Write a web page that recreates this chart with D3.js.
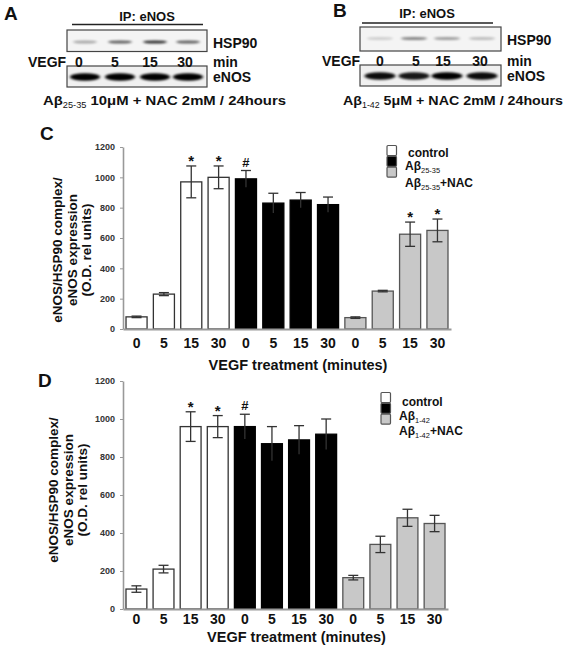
<!DOCTYPE html>
<html><head><meta charset="utf-8">
<script src="https://cdn.jsdelivr.net/npm/d3@7"></script>
<style>body{margin:0;background:#fff}svg{display:block;font-family:"Liberation Sans",Arial,sans-serif;font-weight:bold}</style>
</head><body>
<script>
// ---- data ----
const timeLabels = ["0","5","15","30"];
const groupsC = ["control","Aβ|25-35","Aβ|25-35|+NAC"];
const groupsD = ["control","Aβ|1-42","Aβ|1-42|+NAC"];
const cControl = [80,230,970,1000], cControlErr = [5,10,105,75];
const cAbeta   = [990,830,850,820], cAbetaErr   = [55,65,50,50];
const cNac     = [75,250,625,650],  cNacErr     = [5,5,80,75];
const cControlSig = ["","","*","*"], cAbetaSig = ["#","","",""], cNacSig = ["","","*","*"];
const dControl = [105,210,960,960], dControlErr = [17,20,78,58];
const dAbeta   = [960,870,890,920], dAbetaErr   = [65,90,75,80];
const dNac     = [165,340,480,450], dNacErr     = [12,43,45,43];
const dControlSig = ["","","*","*"], dAbetaSig = ["#","","",""], dNacSig = ["","","",""];
const yTicks = [0,200,400,600,800,1000,1200];
// blot band intensities (lanes 0,5,15,30)
const hspA = [0.3,0.6,0.8,0.6], enosA = [1,1,1,1];
const hspB = [0.15,0.45,0.35,0.22], enosB = [0.95,0.9,1,0.95];

const fills = ["#ffffff","#000000","#c8c8c8"];
const strokes = ["#333","#000","#555"];

const svg = d3.select("body").append("svg").attr("width",567).attr("height",648);
const defs = svg.append("defs");
defs.append("filter").attr("id","blur").attr("x","-50%").attr("y","-100%").attr("width","200%").attr("height","300%")
  .append("feGaussianBlur").attr("stdDeviation","1.6 1.0");

function subText(g, x, y, parts, size, anchor, len){
  const t = g.append("text").attr("x",x).attr("y",y).attr("font-size",size).attr("fill","#111");
  if(anchor) t.attr("text-anchor",anchor);
  t.append("tspan").text(parts[0]);
  if(parts[1]) t.append("tspan").attr("font-size",size*0.62).attr("font-weight","normal").attr("dy",size*0.22).text(parts[1]);
  if(parts[2]) t.append("tspan").attr("dy",-size*0.22).text(parts[2]);
  if(len) t.attr("textLength",len).attr("lengthAdjust","spacingAndGlyphs");
  return t;
}

// ---- blots ----
function blot(cfg){
  const g = svg.append("g");
  g.append("text").attr("x",cfg.letterX).attr("y",cfg.letterY).attr("font-size",19).attr("fill","#111").text(cfg.letter);
  g.append("text").attr("x",cfg.ipX).attr("y",cfg.ipY).attr("text-anchor","middle").attr("font-size",13).attr("fill","#111").text("IP: eNOS");
  g.append("line").attr("x1",cfg.lineX1).attr("x2",cfg.lineX2).attr("y1",cfg.lineY).attr("y2",cfg.lineY).attr("stroke","#222").attr("stroke-width",1.5);
  g.append("rect").attr("x",cfg.bx1).attr("y",cfg.uy1).attr("width",cfg.bx2-cfg.bx1).attr("height",cfg.uy2-cfg.uy1)
    .attr("fill","#f4f4f4").attr("stroke","#444").attr("stroke-width",1.2);
  g.append("rect").attr("x",cfg.bx1).attr("y",cfg.ly1).attr("width",cfg.bx2-cfg.bx1).attr("height",cfg.ly2-cfg.ly1)
    .attr("fill","#f0f0f0").attr("stroke","#444").attr("stroke-width",1.2);
  cfg.lanes.forEach((lx,i)=>{
    g.append("ellipse").attr("cx",lx).attr("cy",cfg.hspY).attr("rx",cfg.hspW).attr("ry",1.6)
      .attr("fill","#000").attr("opacity",cfg.hsp[i]).attr("filter","url(#blur)");
    g.append("ellipse").attr("cx",lx).attr("cy",cfg.enosY).attr("rx",cfg.enosW).attr("ry",3.8)
      .attr("fill","#000").attr("opacity",cfg.enos[i]).attr("filter","url(#blur)");
    g.append("text").attr("x",cfg.numX[i]).attr("y",cfg.numY).attr("text-anchor","middle").attr("font-size",14).attr("fill","#111").text(timeLabels[i]);
  });
  g.append("text").attr("x",cfg.vegfX).attr("y",cfg.numY).attr("font-size",14).attr("fill","#111").text("VEGF");
  g.append("text").attr("x",cfg.bx2+6).attr("y",cfg.hspY+6).attr("font-size",14).attr("fill","#111").text("HSP90");
  g.append("text").attr("x",cfg.bx2+6).attr("y",cfg.numY).attr("font-size",14).attr("fill","#111").text("min");
  g.append("text").attr("x",cfg.bx2+6).attr("y",cfg.enosY+5).attr("font-size",14).attr("fill","#111").text("eNOS");
  subText(g, cfg.capX, cfg.capY, cfg.cap, 13.5, null, cfg.capLen);
}
blot({letter:"A",letterX:4,letterY:20,ipX:147,ipY:21,lineX1:72,lineX2:203,lineY:24.5,
  bx1:67,bx2:207,uy1:30,uy2:51.5,ly1:66,ly2:87,lanes:[85,120,155,188],numX:[79,115,150,185],numY:67,vegfX:28,
  hspY:42,enosY:77,hspW:12,enosW:15,hsp:hspA,enos:enosA,capX:43,capY:105,capLen:243,cap:["Aβ","25-35"," 10μM + NAC 2mM / 24hours"]});
blot({letter:"B",letterX:333,letterY:17,ipX:427,ipY:18,lineX1:362,lineX2:493,lineY:23,
  bx1:360,bx2:501,uy1:27,uy2:51,ly1:65,ly2:86,lanes:[380,414,447,482],numX:[380,416,443,480],numY:66,vegfX:322,
  hspY:38.5,enosY:76,hspW:13,enosW:15.5,hsp:hspB,enos:enosB,capX:343,capY:105,capLen:220,cap:["Aβ","1-42"," 5μM + NAC 2mM / 24hours"]});

// ---- bar charts ----
function barChart(cfg){
  const g = svg.append("g");
  const series = [
    {v:cfg.vals[0],e:cfg.errs[0],s:cfg.sigs[0]},
    {v:cfg.vals[1],e:cfg.errs[1],s:cfg.sigs[1]},
    {v:cfg.vals[2],e:cfg.errs[2],s:cfg.sigs[2]}];
  const rows = [];
  series.forEach((sr,gi)=>sr.v.forEach((v,ti)=>rows.push({key:gi+"_"+ti,g:gi,t:ti,v:v,e:sr.e[ti],s:sr.s[ti]})));
  const x = d3.scaleBand().domain(rows.map(d=>d.key)).range([cfg.x0,cfg.x1]).paddingInner(0.23).paddingOuter(0.11);
  const y = d3.scaleLinear().domain([0,1200]).range([cfg.yb,cfg.yt]);

  g.append("text").attr("x",cfg.letterX).attr("y",cfg.letterY).attr("font-size",19).attr("fill","#111").text(cfg.letter);

  const ya = g.append("g").attr("transform",`translate(${cfg.x0},0)`).call(d3.axisLeft(y).tickValues(yTicks).tickSize(3).tickSizeOuter(0).tickFormat(d3.format("d")));
  ya.select(".domain").attr("stroke","#999").attr("stroke-width",1.6);
  ya.selectAll(".tick line").attr("stroke","#999");
  ya.selectAll(".tick text").attr("font-size",9).attr("fill","#333").attr("font-family","Liberation Sans, Arial").attr("font-weight","bold").attr("x",-8);

  g.selectAll("rect.bar").data(rows).join("rect").attr("class","bar")
    .attr("x",d=>x(d.key)).attr("width",x.bandwidth())
    .attr("y",d=>y(d.v)).attr("height",d=>y(0)-y(d.v))
    .attr("fill",d=>fills[d.g]).attr("stroke",d=>strokes[d.g]).attr("stroke-width",1.3);

  const eg = g.selectAll("g.err").data(rows).join("g").attr("class","err").attr("stroke","#333").attr("stroke-width",1.3);
  eg.append("line").attr("x1",d=>x(d.key)+x.bandwidth()/2).attr("x2",d=>x(d.key)+x.bandwidth()/2)
    .attr("y1",d=>y(d.v+d.e)).attr("y2",d=>y(d.v-d.e));
  eg.append("line").attr("x1",d=>x(d.key)+x.bandwidth()/2-5).attr("x2",d=>x(d.key)+x.bandwidth()/2+5)
    .attr("y1",d=>y(d.v+d.e)).attr("y2",d=>y(d.v+d.e));
  eg.append("line").attr("x1",d=>x(d.key)+x.bandwidth()/2-5).attr("x2",d=>x(d.key)+x.bandwidth()/2+5)
    .attr("y1",d=>y(d.v-d.e)).attr("y2",d=>y(d.v-d.e)).attr("stroke",d=>d.g===1?"none":"#333");

  g.selectAll("text.sig").data(rows.filter(d=>d.s)).join("text").attr("class","sig")
    .attr("x",d=>x(d.key)+x.bandwidth()/2).attr("y",d=>y(d.v+d.e)-(d.s==="#"?4:0))
    .attr("text-anchor","middle").attr("font-size",d=>d.s==="#"?13:15).attr("fill","#111").text(d=>d.s);

  const xa = g.append("g").attr("transform",`translate(0,${cfg.yb})`).call(d3.axisBottom(x).tickSize(0).tickPadding(cfg.tickPad).tickFormat(k=>timeLabels[+k.split("_")[1]]));
  xa.select(".domain").attr("stroke","#999").attr("stroke-width",2);
  xa.selectAll(".tick text").attr("font-size",14).attr("fill","#111").attr("font-family","Liberation Sans, Arial").attr("font-weight","bold");
  g.append("text").attr("x",(cfg.x0+cfg.x1)/2+11).attr("y",cfg.titleY).attr("text-anchor","middle").attr("font-size",14.5).attr("fill","#111").text("VEGF treatment (minutes)");

  const yt = g.append("text").attr("transform",`translate(${cfg.ytX},${cfg.ytY}) rotate(-90)`).attr("text-anchor","middle").attr("font-size",13.5).attr("fill","#111");
  ["eNOS/HSP90 complex/","eNOS expression","(O.D. rel units)"].forEach((s,i)=>yt.append("tspan").attr("x",0).attr("dy",i===0?0:14.5).text(s));

  const lg = g.append("g");
  cfg.groups.forEach((gn,i)=>{
    lg.append("rect").attr("x",cfg.legX).attr("y",cfg.legY+i*10.8).attr("width",9.5).attr("height",10)
      .attr("fill",fills[i]).attr("stroke","#555").attr("stroke-width",1.2).attr("rx",1);
  });
  lg.append("text").attr("x",cfg.legX+21).attr("y",cfg.legTY[0]).attr("font-size",12).attr("fill","#111").text("control");
  subText(lg, cfg.legX+18, cfg.legTY[1], cfg.groups[1].split("|"), 12);
  subText(lg, cfg.legX+18, cfg.legTY[2], cfg.groups[2].split("|"), 12);
}

barChart({letter:"C",letterX:40,letterY:140,x0:123,x1:451,yt:147,yb:329,tickPad:9,titleY:370,
  vals:[cControl,cAbeta,cNac],errs:[cControlErr,cAbetaErr,cNacErr],sigs:[cControlSig,cAbetaSig,cNacSig],
  ytX:62,ytY:250,groups:groupsC,legX:387,legY:145.5,legTY:[157,170,187]});
barChart({letter:"D",letterX:38,letterY:387,x0:123,x1:448,yt:381,yb:609,tickPad:5,titleY:642,
  vals:[dControl,dAbeta,dNac],errs:[dControlErr,dAbetaErr,dNacErr],sigs:[dControlSig,dAbetaSig,dNacSig],
  ytX:58,ytY:490,groups:groupsD,legX:381,legY:392.5,legTY:[405.5,420,435]});
</script>
</body></html>
